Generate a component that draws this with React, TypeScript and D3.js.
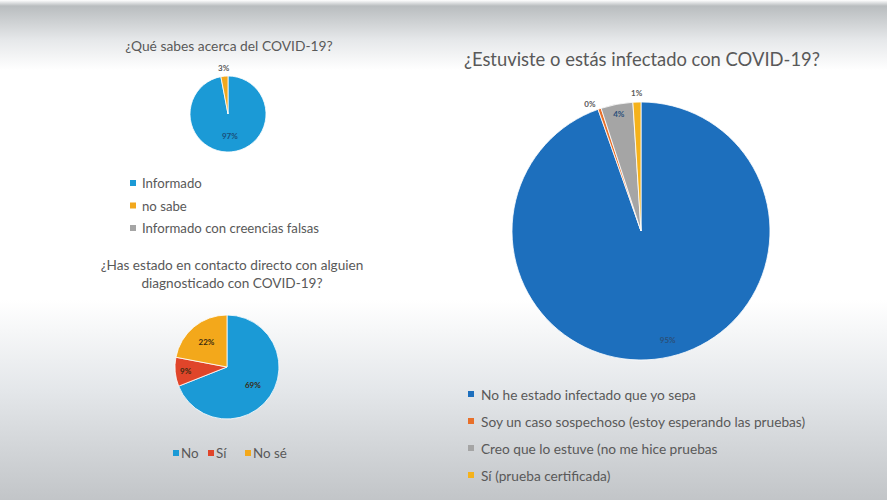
import React from "react";
import * as d3 from "d3";

const W = 887;
const H = 500;
const FONT = "Lato, 'Open Sans', sans-serif";
const TEXT = "#595959";

// Chart 1
const q1Title = "¿Qué sabes acerca del COVID-19?";
const q1Cats = ["Informado", "no sabe", "Informado con creencias falsas"];
const q1Vals = [97, 3, 0];
const q1Colors = ["#1b9ad6", "#f2a81d", "#a5a5a5"];

// Chart 2
const q2Title = ["¿Has estado en contacto directo con alguien", "diagnosticado con COVID-19?"];
const q2Cats = ["No", "Sí", "No sé"];
const q2Vals = [69, 9, 22];
const q2Colors = ["#1b9ad6", "#e0452a", "#f3a81b"];

// Chart 3
const q3Title = "¿Estuviste o estás infectado con COVID-19?";
const q3Cats = [
  "No he estado infectado que yo sepa",
  "Soy un caso sospechoso (estoy esperando las pruebas)",
  "Creo que lo estuve (no me hice pruebas",
  "Sí (prueba certificada)",
];
const q3Vals = [94.6, 0.4, 4.0, 1.0];
const q3Colors = ["#1d6fbd", "#e8702a", "#a5a5a5", "#f5b21b"];

type Lbl = { inside: boolean; r?: number; dx?: number; dy?: number } | null;

function Pie(props: {
  cx: number; cy: number; r: number; vals: number[]; colors: string[];
  labels: Lbl[]; fs: number; labelColor: string;
}) {
  const { cx, cy, r, vals, colors, labels, fs, labelColor } = props;
  const arcs = d3.pie<number>().sort(null).value((d) => d)(vals);
  const arc = d3.arc<d3.PieArcDatum<number>>().innerRadius(0).outerRadius(r);
  return (
    <g transform={`translate(${cx},${cy})`}>
      {arcs.map((a, i) =>
        a.data > 0 ? (
          <path key={i} d={arc(a) || ""} fill={colors[i]} stroke="#ffffff" strokeWidth={0.8} />
        ) : null
      )}
      {arcs.map((a, i) => {
        const L = labels[i];
        if (!L) return null;
        const mid = (a.startAngle + a.endAngle) / 2;
        const lr = (L.r ?? (L.inside ? 0.62 : 1.15)) * r;
        const x = Math.sin(mid) * lr + (L.dx ?? 0);
        const y = -Math.cos(mid) * lr + (L.dy ?? 0);
        return (
          <text key={"l" + i} x={x} y={y} textAnchor="middle" dominantBaseline="central"
            fontFamily={FONT} fontSize={fs} fontWeight="bold"
            fill={L.inside ? labelColor : "#595959"}>
            {Math.round(a.data)}%
          </text>
        );
      })}
    </g>
  );
}

export default function App() {
  return (
    <svg width={W} height={H} style={{ position: "absolute", left: 0, top: 0 }}>
      <defs>
        <linearGradient id="bg" x1="0" y1="0" x2="0" y2="1">
          <stop offset="0" stopColor="#ffffff" />
          <stop offset="0.012" stopColor="#b9bdbf" />
          <stop offset="0.08" stopColor="#e6e8ea" />
          <stop offset="0.14" stopColor="#ffffff" />
          <stop offset="0.6" stopColor="#ffffff" />
          <stop offset="0.78" stopColor="#e4e7ea" />
          <stop offset="1" stopColor="#c2c5c8" />
        </linearGradient>
      </defs>
      <rect x={0} y={0} width={W} height={H} fill="url(#bg)" />

      {/* Chart 1 */}
      <text x={229} y={51} textAnchor="middle" fontFamily={FONT} fontSize={13.8} fill={TEXT}>{q1Title}</text>
      <Pie cx={228} cy={114} r={38} vals={q1Vals} colors={q1Colors} fs={8} labelColor="#1a4f7a"
        labels={[{ inside: true, r: 0.5, dx: 0, dy: 3 }, { inside: false, r: 1.22 }, null]} />
      {q1Cats.map((c, i) => (
        <g key={c}>
          <rect x={130} y={180 + i * 22.5} width={6} height={6} fill={q1Colors[i]} />
          <text x={142} y={183 + i * 22.5} dominantBaseline="central" fontFamily={FONT} fontSize={13.2} fill={TEXT}>{c}</text>
        </g>
      ))}

      {/* Chart 2 */}
      {q2Title.map((t, i) => (
        <text key={t} x={232} y={270 + i * 18} textAnchor="middle" fontFamily={FONT} fontSize={13.6} fill={TEXT}>{t}</text>
      ))}
      <Pie cx={227} cy={367} r={52} vals={q2Vals} colors={q2Colors} fs={8} labelColor="#3a2a10"
        labels={[{ inside: true, r: 0.6 }, { inside: true, r: 0.8 }, { inside: true, r: 0.62 }]} />
      {q2Cats.map((c, i) => {
        const xs = [173, 208, 245];
        return (
          <g key={c}>
            <rect x={xs[i]} y={450} width={6} height={6} fill={q2Colors[i]} />
            <text x={xs[i] + 8} y={453} dominantBaseline="central" fontFamily={FONT} fontSize={13.4} fill={TEXT}>{c}</text>
          </g>
        );
      })}

      {/* Chart 3 */}
      <text x={642} y={66} textAnchor="middle" fontFamily={FONT} fontSize={18.4} fill={TEXT}>{q3Title}</text>
      <Pie cx={641} cy={231} r={129} vals={q3Vals} colors={q3Colors} fs={8} labelColor="#2a4f7a"
        labels={[{ inside: true, r: 0.86, dx: 8, dy: 0 }, { inside: false, r: 1.04, dx: -8, dy: 0 }, { inside: true, r: 0.92 }, { inside: false, r: 1.07 }]} />
      {q3Cats.map((c, i) => (
        <g key={c}>
          <rect x={468} y={391 + i * 27} width={6} height={6} fill={q3Colors[i]} />
          <text x={481} y={394 + i * 27} dominantBaseline="central" fontFamily={FONT} fontSize={13.7} fill={TEXT}>{c}</text>
        </g>
      ))}
    </svg>
  );
}
